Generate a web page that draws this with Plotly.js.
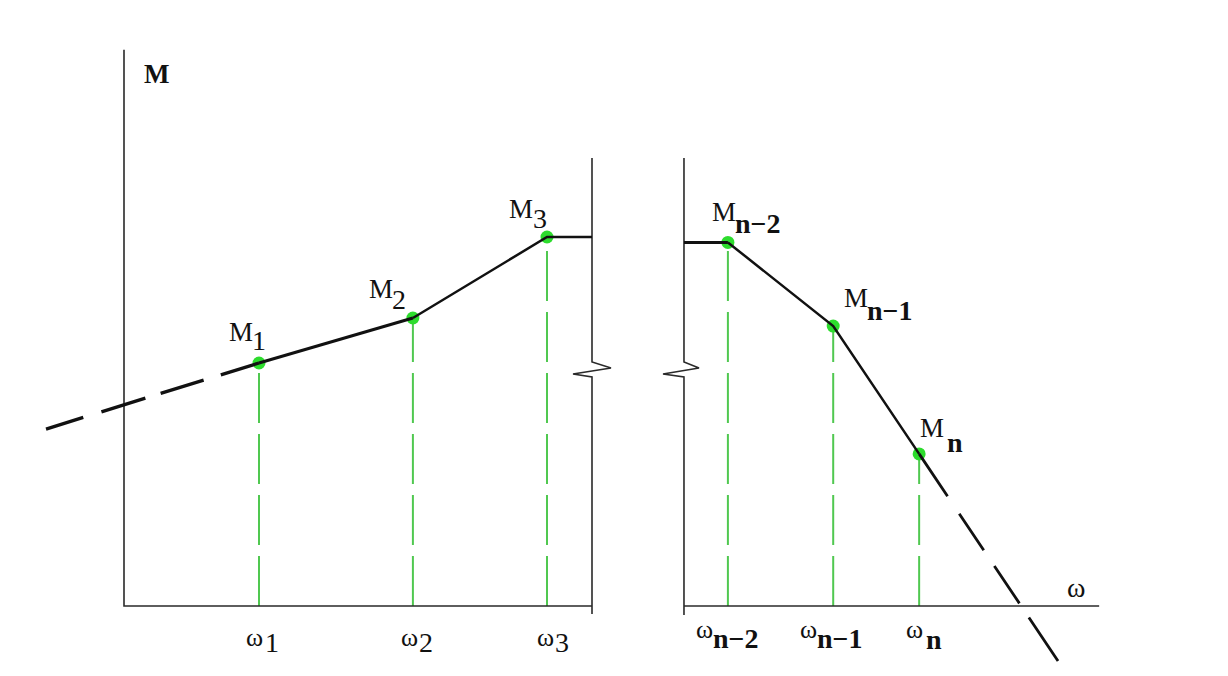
<!DOCTYPE html>
<html>
<head>
<meta charset="utf-8">
<script src="https://cdn.plot.ly/plotly-3.0.1.min.js"></script>
<style>html,body{margin:0;padding:0;background:#fff;}#chart{width:1228px;height:676px;}</style>
</head>
<body>
<div id="chart"></div>
<script>
// ---- data ----
const omegaPts = [3.0, 6.42, 9.4, 13.42, 15.76, 17.67];      // ω1, ω2, ω3, ωn-2, ωn-1, ωn
const magPts   = [5.4, 6.4, 8.2, 8.08, 6.22, 3.38];          // M1, M2, M3, Mn-2, Mn-1, Mn
const subLabels = ['1', '2', '3', 'n\u22122', 'n\u22121', 'n'];
const pointBase = 'M';
const omegaBase = '\u03C9';

// leading (extrapolated) left segment and trailing right segment
const leadX = [-1.733, 3.0];
const leadY = [3.933, 5.4];
const tailX = [17.67, 20.756];
const tailY = [3.38, -1.222];

// axis frame geometry (broken axis)
const leftAxisX  = [0, 0, 10.4];
const leftAxisY  = [12.36, 0, 0];
const leftBreakX = [10.4, 10.4, 10.822, 9.978, 10.4, 10.4];
const leftBreakY = [9.956, 5.422, 5.289, 5.156, 5.089, -0.178];
const rightBreakX = [12.444, 12.444, 12.778, 11.978, 12.444, 12.444];
const rightBreakY = [9.956, 5.422, 5.289, 5.156, 5.089, -0.2];
const rightXAxisX = [12.444, 21.67];
const rightXAxisY = [0, 0];

// ---- styles ----
const black = '#111111';
const axisCol = '#2a2a2a';
const greenLine = 'rgb(80,200,80)';
const greenDot = 'rgb(45,220,45)';
const serif = 'Liberation Serif, DejaVu Serif, serif';

// label offsets in pixels: [base right edge dx, sub left edge dx, base dy, sub dy]
const mLabelShift = [[-5,-8,31,23],[-19,-22,29,19],[-13,-15,28,19],[9,6,30,19],[36,33,28,16],[26,27,26,11]];
const wLabelShift = [[5,5,-31,-36],[6,5,-31,-36],[8,7,-31,-36],[-14,-16,-23,-32],[-15,-17,-23,-32],[5,6,-23,-33]];

const traces = [];
// green drop lines
for (let i = 0; i < omegaPts.length; i++) {
  traces.push({x:[omegaPts[i], omegaPts[i]], y:[0, magPts[i]], mode:'lines',
    line:{color:greenLine, width:2, dash:'50px,11px'}, hoverinfo:'skip'});
}
// axes
traces.push({x:leftAxisX, y:leftAxisY, mode:'lines', line:{color:axisCol, width:1.6}, hoverinfo:'skip'});
traces.push({x:leftBreakX, y:leftBreakY, mode:'lines', line:{color:axisCol, width:1.6}, hoverinfo:'skip'});
traces.push({x:rightBreakX, y:rightBreakY, mode:'lines', line:{color:axisCol, width:1.6}, hoverinfo:'skip'});
traces.push({x:rightXAxisX, y:rightXAxisY, mode:'lines', line:{color:axisCol, width:1.6}, hoverinfo:'skip'});
// markers
traces.push({x:omegaPts, y:magPts, mode:'markers', marker:{color:greenDot, size:13}, hoverinfo:'skip'});
// curves
traces.push({x:leadX, y:leadY, mode:'lines', line:{color:black, width:3.4, dash:'39px,19px,46px,16px,45px,18px,80px'}, hoverinfo:'skip'});
traces.push({x:[omegaPts[0], omegaPts[1]], y:[magPts[0], magPts[1]], mode:'lines', line:{color:black, width:3}, hoverinfo:'skip'});
traces.push({x:[omegaPts[1], omegaPts[2], leftAxisX[2]], y:[magPts[1], magPts[2], magPts[2]], mode:'lines', line:{color:black, width:2.5}, hoverinfo:'skip'});
traces.push({x:[rightBreakX[0], omegaPts[3]], y:[magPts[3], magPts[3]], mode:'lines', line:{color:black, width:3}, hoverinfo:'skip'});
traces.push({x:[omegaPts[3], omegaPts[4], omegaPts[5]], y:[magPts[3], magPts[4], magPts[5]], mode:'lines', line:{color:black, width:2.5}, hoverinfo:'skip'});
traces.push({x:tailX, y:tailY, mode:'lines', line:{color:black, width:2.8, dash:'51px,21px,44px,19px,45px,17px,80px'}, hoverinfo:'skip'});

// annotations
const ann = [];
function lab(x, y, text, size, xanchor, dx, dy) {
  ann.push({x:x, y:y, xref:'x', yref:'y', text:text, showarrow:false,
    xanchor:xanchor, yanchor:'middle', xshift:dx, yshift:dy,
    font:{family:serif, size:size, color:black}, borderpad:0});
}
function subText(s) { return s.length > 1 || s === 'n' ? '<b>' + s + '</b>' : s; }
for (let i = 0; i < omegaPts.length; i++) {
  const m = mLabelShift[i], w = wLabelShift[i];
  lab(omegaPts[i], magPts[i], pointBase, 27, 'right', m[0], m[2]);
  lab(omegaPts[i], magPts[i], subText(subLabels[i]), 28, 'left', m[1], m[3]);
  lab(omegaPts[i], 0, omegaBase, 26, 'right', w[0], w[2]);
  lab(omegaPts[i], 0, subText(subLabels[i]), 28, 'left', w[1], w[3]);
}
// axis titles
lab(leftAxisX[0], leftAxisY[0], '<b>M</b>', 27, 'center', 32, -24);
lab(rightXAxisX[1], 0, '\u03C9', 28, 'center', -23, 19);

const layout = {
  width:1228, height:676,
  margin:{l:0, r:0, t:0, b:0},
  paper_bgcolor:'#ffffff', plot_bgcolor:'#ffffff',
  showlegend:false,
  xaxis:{range:[-2.7556, 24.5333], visible:false, fixedrange:true},
  yaxis:{range:[-1.5556, 13.4667], visible:false, fixedrange:true},
  annotations:ann
};
Plotly.newPlot('chart', traces, layout, {displayModeBar:false, staticPlot:true});
</script>
</body>
</html>
